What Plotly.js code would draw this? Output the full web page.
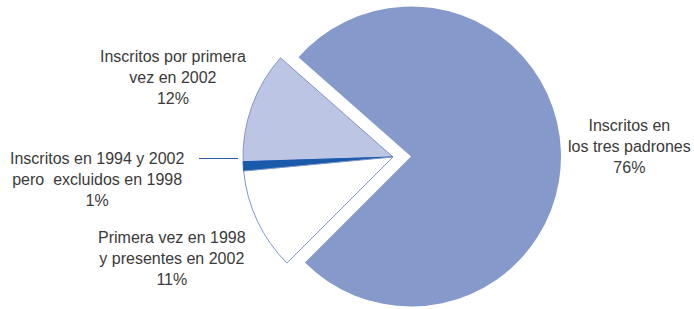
<!DOCTYPE html>
<html>
<head>
<meta charset="utf-8">
<script src="https://cdn.plot.ly/plotly-3.0.1.min.js"></script>
<style>html,body{margin:0;padding:0;background:#fff;}#chart{width:694px;height:309px;}</style>
</head>
<body>
<div id="chart"></div>
<script>
var categories = [
  "Inscritos en<br>los tres padrones",
  "Inscritos por primera<br>vez en 2002",
  "Inscritos en 1994 y 2002<br>pero  excluidos en 1998",
  "Primera vez en 1998<br>y presentes en 2002"
];
var percents = [76, 12, 1, 11];
var sliceColors = ["#8599cb", "#bcc5e3", "#1a5aab", "#ffffff"];
var lineColors = ["#8599cb", "#7f96cc", "#1a5aab", "#7f96cc"];

var W = 694, H = 309;
function px2x(p){ return p / W; }
function px2y(p){ return (H - p) / H; }

var clear = "rgba(0,0,0,0)";
var bigColors = sliceColors.map(function(c,i){ return i === 0 ? c : clear; });
var smallColors = sliceColors.map(function(c,i){ return i === 0 ? clear : c; });
var smallLines = lineColors.map(function(c,i){ return i === 0 ? clear : c; });

var common = {
  type: "pie", values: percents, labels: categories, sort: false,
  direction: "counterclockwise", rotation: -48.6, textinfo: "none",
  hoverinfo: "skip", showlegend: false
};

var traceBig = Object.assign({}, common, {
  marker: { colors: bigColors, line: { width: 0, color: clear } },
  domain: { x: [px2x(261), px2x(561)], y: [px2y(306.5), px2y(6.5)] }
});
var traceSmall = Object.assign({}, common, {
  marker: { colors: smallColors, line: { width: 1, color: smallLines } },
  domain: { x: [px2x(243), px2x(543)], y: [px2y(307), px2y(7)] }
});

var labelPos = [[629, 146], [173, 77], [97, 179], [172, 258]];
var annotations = categories.map(function(c, i){
  return {
    xref: "paper", yref: "paper",
    x: px2x(labelPos[i][0]), y: px2y(labelPos[i][1]),
    xanchor: "center", yanchor: "middle", showarrow: false, align: "center",
    text: c + "<br>" + percents[i] + "%",
    font: { family: "Liberation Sans, Arial, sans-serif", size: 16, color: "#3a3a3a" }
  };
});

var layout = {
  width: W, height: H,
  margin: { l: 0, r: 0, t: 0, b: 0 },
  paper_bgcolor: "#ffffff", plot_bgcolor: "#ffffff",
  annotations: annotations,
  shapes: [{
    type: "line", xref: "paper", yref: "paper",
    x0: px2x(199), x1: px2x(238), y0: px2y(158.5), y1: px2y(158.5),
    line: { color: "#2a5ca8", width: 1.2 }
  }]
};

Plotly.newPlot("chart", [traceBig, traceSmall], layout, { displayModeBar: false, staticPlot: true });
</script>
</body>
</html>
